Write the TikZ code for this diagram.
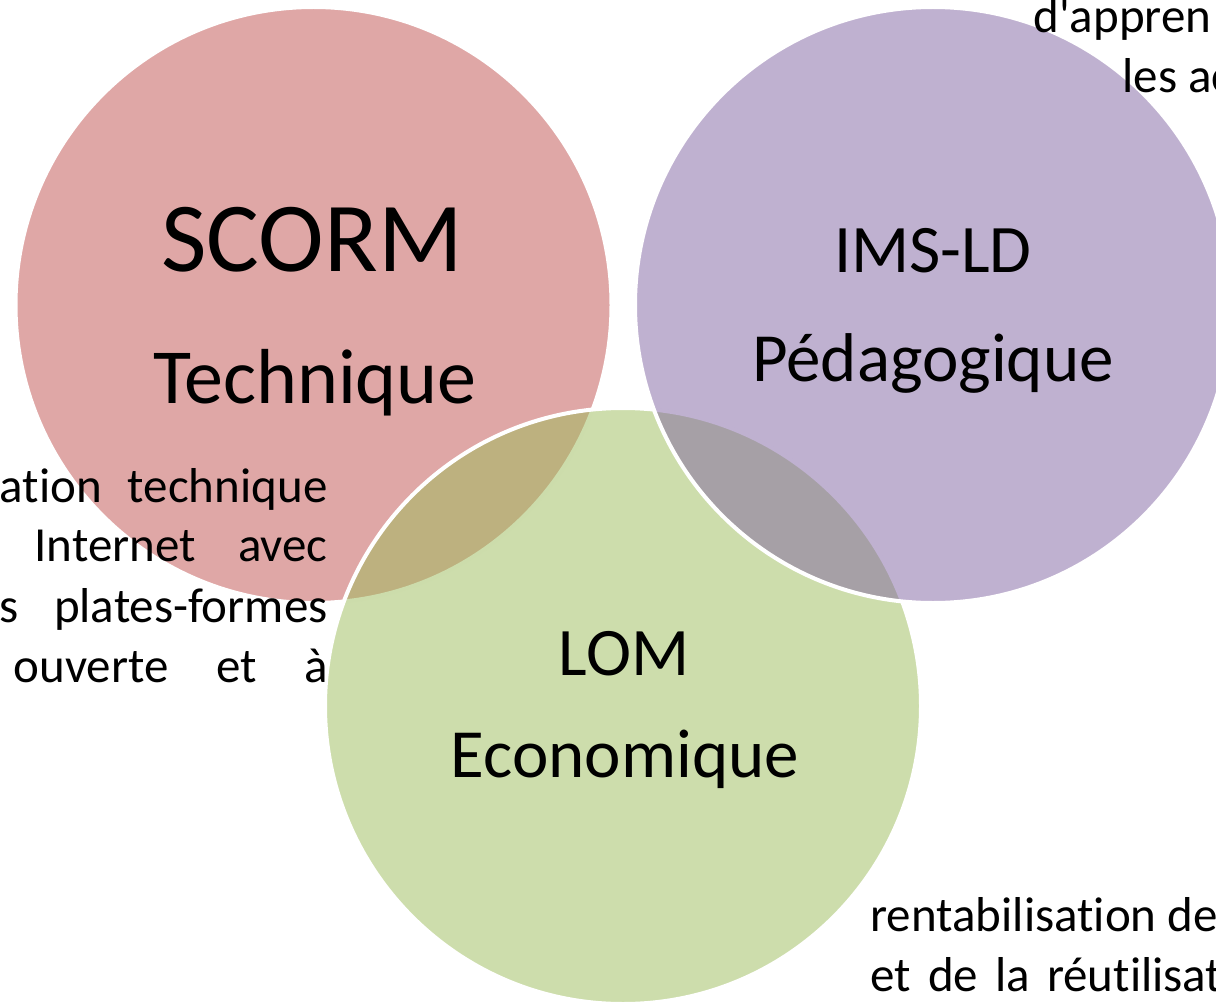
\documentclass[tikz,border=0pt]{standalone}
\usepackage{fontspec}
\setmainfont{Carlito}[Ligatures=NoCommon]
\newfontfamily\smallfont{Carlito}[Ligatures=NoCommon]
\definecolor{cred}{HTML}{C0504D}
\definecolor{cgreen}{HTML}{9BBB59}
\definecolor{cpurple}{HTML}{8064A2}
\tikzset{
  venn/.style={circle, minimum size=298pt, inner sep=0pt, outer sep=0pt,
    draw=white, line width=2pt, fill opacity=0.5, draw opacity=1},
  big/.style={inner sep=0pt, anchor=base, font=\fontsize{34pt}{40pt}\selectfont},
  small/.style={inner sep=0pt, font=\smallfont\fontsize{24.5pt}{30pt}\selectfont}
}
\begin{document}
\begin{tikzpicture}[x=0.5pt, y=-0.5pt]
\useasboundingbox (0,0) rectangle (1216,1006);
\clip (0,0) rectangle (1216,1006);
% circles
\node[venn, fill=cred] (scorm) at (313.5,305) {};
\node[venn, fill=cgreen] (lom) at (623,706) {};
\node[venn, fill=cpurple] (imsld) at (933,305) {};
% circle labels
\node[big, font=\fontsize{49.5pt}{55pt}\selectfont] (scormt) at (312,271) {SCORM};
\node[big, font=\fontsize{39pt}{45pt}\selectfont] (tech) at (315,403) {Technique};
\node[big] (imst) at (933,272) {IMS-LD};
\node[big, font=\fontsize{34.5pt}{40pt}\selectfont] (peda) at (933,381) {Pédagogique};
\node[big] (lomt) at (624,675) {LOM};
\node[big, font=\fontsize{34.5pt}{40pt}\selectfont] (eco) at (625,777) {Economique};
% left paragraph fragment
\node[small, anchor=base east] (l1) at (328,502) {\makebox[164pt][s]{ation technique}};
\node[small, anchor=base east] (l2) at (328,561) {\makebox[146.5pt][s]{Internet avec}};
\node[small, anchor=base east] (l3) at (328,622) {\makebox[164pt][s]{s plates-formes}};
\node[small, anchor=base east] (l4) at (328,682) {\makebox[157pt][s]{ouverte et à}};
% top right fragment
\node[small, anchor=base west] (r1) at (1033,33) {d'appren};
\node[small, anchor=base west] (r2) at (1122,93) {les ac};
% bottom right fragment
\node[small, anchor=base west] (b1) at (870,931) {rentabilisation de};
\node[small, anchor=base west] (b2) at (870,991) {\makebox[176pt][s]{et de la réutilisat}};
\end{tikzpicture}
\end{document}
